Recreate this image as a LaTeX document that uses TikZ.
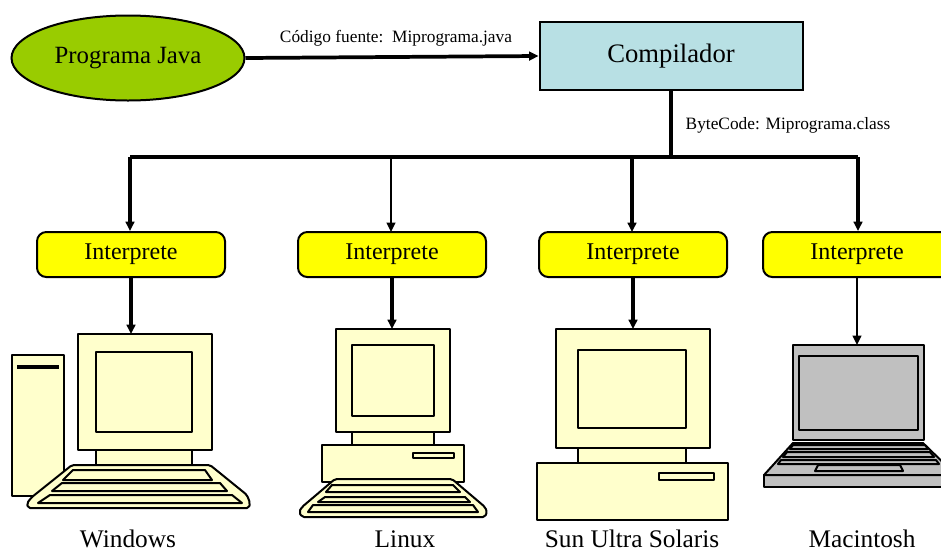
\documentclass[tikz,border=0pt]{standalone}
\usepackage{fontspec}
\setmainfont{Liberation Serif}
\usetikzlibrary{shapes.geometric,arrows.meta}
\definecolor{javagreen}{RGB}{153,204,0}
\definecolor{compblue}{RGB}{184,224,228}
\definecolor{interyellow}{RGB}{255,255,0}
\definecolor{beige}{RGB}{255,255,204}
\definecolor{macgray}{RGB}{192,192,192}
\tikzset{
  thickline/.style={line width=2.8pt},
  thinline/.style={line width=1.2pt},
  arrowhead/.style={-{Triangle[length=7pt,width=6.5pt]}},
  interp/.style={draw, line width=1.5pt, fill=interyellow, rounded corners=7pt,
    minimum width=141pt, minimum height=33.75pt, inner sep=0pt, font=\fontsize{18}{20}\selectfont},
  part/.style={draw, line width=1.5pt, line join=round},
  pcpart/.style={part, fill=beige},
  macpart/.style={part, fill=macgray},
  oslabel/.style={anchor=base, inner sep=0pt, font=\fontsize{19}{22}\selectfont},
  edgelabel/.style={font=\fontsize{13}{15}\selectfont}
}
\begin{document}
\begin{tikzpicture}[x=0.75pt,y=-0.75pt]
\useasboundingbox (0,0) rectangle (941,554);

% source program and compiler
\node[ellipse, draw, line width=1.5pt, fill=javagreen, minimum width=174.75pt,
  minimum height=63.75pt, inner sep=0pt, font=\fontsize{18.6}{20}\selectfont]
  (java) at (128,58) {Programa Java};
\node[draw, line width=1.5pt, fill=compblue, minimum width=197.25pt,
  minimum height=51pt, inner sep=0pt, font=\fontsize{20}{22}\selectfont]
  (comp) at (671,56) {Compilador};
\draw[thickline, arrowhead] (java.east) -- (comp.west);
\node[edgelabel] (srclabel) at (396,38) {Código fuente:\ \ Miprograma.java};

% bytecode distribution bus
\coordinate (bus) at (671,157);
\coordinate (busL) at (130,157);
\coordinate (busR) at (858,157);
\draw[thickline] (comp.south) -- (bus);
\draw[thickline] (busL) -- (busR);
\node[edgelabel, anchor=west] (bclabel) at (681,125) {ByteCode: Miprograma.class};

% interpreters
\node[interp] (i1) at (131,254.5) {Interprete};
\node[interp] (i2) at (392,254.5) {Interprete};
\node[interp] (i3) at (633,254.5) {Interprete};
\node[interp] (i4) at (857,254.5) {Interprete};

\draw[thickline, arrowhead] (busL) -- (busL |- i1.north);
\draw[thinline, arrowhead] (391,157) -- (391,232);
\draw[thickline, arrowhead] (632,157) -- (632,232);
\draw[thickline, arrowhead] (busR) -- (busR |- i4.north);

% Windows desktop
\coordinate (wtop) at (132,334);
\draw[pcpart] (12,355) rectangle (64,496);
\draw[line width=3pt] (17,367) -- (59,367);
\draw[pcpart] (96,450) rectangle (192,467);
\draw[pcpart] (78,334) rectangle (212,450);
\draw[pcpart] (96,352) rectangle (192,432);
\draw[pcpart, rounded corners=1.5pt] (72,465) -- (210,465) -- (247,495) -- (250,503) -- (249,508)
  -- (28,508) -- (27,503) -- (32,497) -- cycle;
\draw[pcpart] (73,470) -- (205,470) -- (212,480) -- (63,480) -- cycle;
\draw[pcpart] (62,483) -- (220,483) -- (227,491) -- (52,491) -- cycle;
\draw[pcpart] (50,495) -- (232,495) -- (242,503) -- (38,503) -- cycle;
\node[oslabel] (winlabel) at (128,547) {Windows};

% Linux desktop
\coordinate (ltop) at (391,329);
\draw[pcpart] (322,445) rectangle (464,482);
\draw[pcpart] (413,453) rectangle (454,458);
\draw[pcpart] (352,432) rectangle (434,445);
\draw[pcpart] (336,329) rectangle (450,432);
\draw[pcpart] (352,345) rectangle (434,416);
\draw[pcpart, rounded corners=1.5pt] (335,479) -- (452,479) -- (485,507) -- (487,512) -- (485,517)
  -- (302,517) -- (299,512) -- (302,507) -- cycle;
\draw[pcpart] (332,485) -- (453,485) -- (460,492) -- (326,492) -- cycle;
\draw[pcpart] (325,497) -- (465,497) -- (470,502) -- (318,502) -- cycle;
\draw[pcpart] (313,505) -- (473,505) -- (478,512) -- (308,512) -- cycle;
\node[oslabel] (linlabel) at (405,547) {Linux};

% Sun workstation
\coordinate (stop) at (632,329);
\draw[pcpart] (537,463) rectangle (728,520);
\draw[pcpart] (659,473) rectangle (714,480);
\draw[pcpart] (578,448) rectangle (686,463);
\draw[pcpart] (556,329) rectangle (710,448);
\draw[pcpart] (578,350) rectangle (686,428);
\node[oslabel] (sunlabel) at (632,547) {Sun Ultra Solaris};

% Macintosh laptop
\coordinate (mtop) at (858,345);
\draw[macpart] (764,475) rectangle (960,487);
\draw[macpart] (793,443) -- (923,443) -- (956,475) -- (764,475) -- cycle;
\draw[macpart] (793,445) -- (925,445) -- (928,449) -- (790,449) -- cycle;
\draw[macpart] (787,452) -- (930,452) -- (934,457) -- (783,457) -- cycle;
\draw[macpart] (781,460) -- (936,460) -- (939,464) -- (778,464) -- cycle;
\draw[macpart] (818,465) -- (900,465) -- (903,471) -- (815,471) -- cycle;
\draw[macpart] (793,345) rectangle (924,440);
\draw[macpart] (799,356) rectangle (918,430);
\node[oslabel] (maclabel) at (862,547) {Macintosh};

% interpreter to machine
\draw[thickline, arrowhead] (i1.south) -- (i1.south |- wtop);
\draw[thickline, arrowhead] (i2.south) -- (i2.south |- ltop);
\draw[thickline, arrowhead] (i3.south) -- (i3.south |- stop);
\draw[thinline, arrowhead] (i4.south) -- (i4.south |- mtop);
\end{tikzpicture}
\end{document}
